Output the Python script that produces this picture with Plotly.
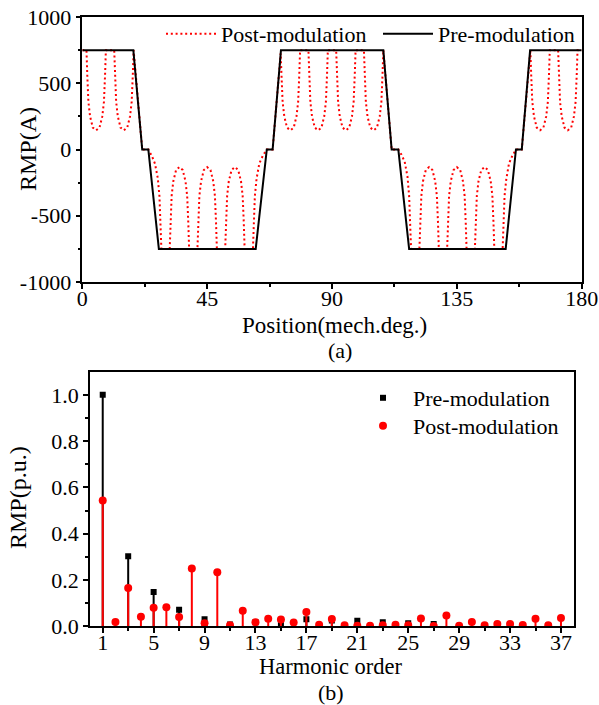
import plotly.graph_objects as go

# ---------------- (a) waveform data ----------------
pre_pos = [0, 18.4, 21.6, 23.8, 27.6, 62.5, 66.5, 68.6, 71.6, 108.5, 111.5, 113.9,
           117.8, 152.6, 156.3, 158.4, 161.4, 180]
pre_rmp = [750, 750, 0, 0, -750, -750, 0, 0, 750, 750, 0, 0,
           -750, -750, 0, 0, 750, 750]

post_pos = [
    0, 1.5, 1.8, 2.2, 2.8, 3.8, 5, 6.2, 7.2, 7.8, 8.2, 8.5,
    11.5, 11.8, 12.2, 12.8, 13.8, 15, 16.2, 17.2, 17.8, 18.2, 18.5,
    21.6, 23.8, 24.4, 25, 26.2, 27.2, 27.8, 28.2, 28.5,
    31.5, 31.8, 32.2, 32.8, 33.8, 35, 36.2, 37.2, 37.8, 38.2, 38.5,
    41.5, 41.8, 42.2, 42.8, 43.8, 45, 46.2, 47.2, 47.8, 48.2, 48.5,
    51.5, 51.8, 52.2, 52.8, 53.8, 55, 56.2, 57.2, 57.8, 58.2, 58.5,
    61.5, 61.8, 62.2, 62.8, 63.8, 65, 66.5, 68.6, 71.5,
    71.8, 72.2, 72.8, 73.8, 75, 76.2, 77.2, 77.8, 78.2, 78.5,
    81.5, 81.8, 82.2, 82.8, 83.8, 85, 86.2, 87.2, 87.8, 88.2, 88.5,
    91.5, 91.8, 92.2, 92.8, 93.8, 95, 96.2, 97.2, 97.8, 98.2, 98.5,
    101.5, 101.8, 102.2, 102.8, 103.8, 105, 106.2, 107.2, 107.8, 108.2, 108.5,
    111.5, 113.9, 114.4, 115, 116.2, 117.2, 117.8, 118.2, 118.5,
    121.5, 121.8, 122.2, 122.8, 123.8, 125, 126.2, 127.2, 127.8, 128.2, 128.5,
    131.5, 131.8, 132.2, 132.8, 133.8, 135, 136.2, 137.2, 137.8, 138.2, 138.5,
    141.5, 141.8, 142.2, 142.8, 143.8, 145, 146.2, 147.2, 147.8, 148.2, 148.5,
    151.5, 151.8, 152.2, 152.8, 153.8, 155, 156.3, 158.4, 161.5,
    161.8, 162.2, 162.8, 163.8, 165, 166.2, 167.2, 167.8, 168.2, 168.5,
    171.5, 171.8, 172.2, 172.8, 173.8, 175, 176.2, 177.2, 177.8, 178.2, 178.5,
    180]
post_rmp = [
    750, 750, 560, 360, 250, 165, 145, 165, 250, 360, 560, 750,
    750, 560, 360, 250, 165, 145, 165, 250, 360, 560, 750,
    0, 0, -24, -45, -107, -215, -350, -550, -750,
    -750, -550, -350, -240, -155, -133, -155, -240, -350, -550, -750,
    -750, -550, -350, -240, -155, -133, -155, -240, -350, -550, -750,
    -750, -550, -350, -240, -155, -133, -155, -240, -350, -550, -750,
    -750, -550, -350, -222, -105, -50, 0, 0, 725,
    560, 360, 250, 165, 145, 165, 250, 360, 560, 750,
    750, 560, 360, 250, 165, 145, 165, 250, 360, 560, 750,
    750, 560, 360, 250, 165, 145, 165, 250, 360, 560, 750,
    750, 560, 360, 250, 165, 145, 165, 250, 360, 560, 750,
    0, 0, -18, -38, -92, -203, -350, -550, -750,
    -750, -550, -350, -240, -155, -133, -155, -240, -350, -550, -750,
    -750, -550, -350, -240, -155, -133, -155, -240, -350, -550, -750,
    -750, -550, -350, -240, -155, -133, -155, -240, -350, -550, -750,
    -750, -550, -350, -227, -105, -47, 0, 0, 750,
    560, 360, 250, 165, 145, 165, 250, 360, 560, 750,
    750, 560, 360, 250, 165, 145, 165, 250, 360, 560, 750,
    750]

a_xticks = [0, 45, 90, 135, 180]
a_yticks = [-1000, -500, 0, 500, 1000]
a_yticktext = ["-1000", "-500", "0", "500", "1000"]

# ---------------- (b) harmonic data ----------------
pre_orders = [1, 3, 5, 7, 9, 11, 13, 15, 17, 19, 21, 23, 25, 27]
pre_pu = [1.0, 0.303, 0.148, 0.072, 0.030, 0.008, 0.018, 0.010, 0.030, 0.025,
          0.024, 0.018, 0.013, 0.010]

post_orders = list(range(1, 38))
post_pu = [0.543, 0.019, 0.165, 0.041, 0.080, 0.082, 0.040, 0.250, 0.013, 0.234,
           0.004, 0.067, 0.017, 0.033, 0.029, 0.016, 0.062, 0.007, 0.031, 0.004,
           0.002, 0.002, 0.004, 0.007, 0.004, 0.034, 0.001, 0.047, 0.002, 0.019,
           0.004, 0.010, 0.010, 0.006, 0.033, 0.004, 0.036]

b_xticks = [1, 5, 9, 13, 17, 21, 25, 29, 33, 37]
b_yticks = [0.0, 0.2, 0.4, 0.6, 0.8, 1.0]

FONT = "Liberation Serif"
FS = 22
W, H = 599, 705


def stems(xs, ys):
    sx, sy = [], []
    for x, y in zip(xs, ys):
        sx += [x, x, None]
        sy += [0, y, None]
    return sx, sy


fig = go.Figure()

# (a)
fig.add_trace(go.Scatter(x=post_pos, y=post_rmp, mode="lines", name="Post-modulation",
                         line=dict(color="#ff0000", width=2, dash="2px,2.8px"),
                         xaxis="x", yaxis="y", legend="legend"))
fig.add_trace(go.Scatter(x=pre_pos, y=pre_rmp, mode="lines", name="Pre-modulation",
                         line=dict(color="black", width=2),
                         xaxis="x", yaxis="y", legend="legend"))

# (b)
sx, sy = stems(pre_orders, pre_pu)
fig.add_trace(go.Scatter(x=sx, y=sy, mode="lines", line=dict(color="black", width=2),
                         showlegend=False, xaxis="x2", yaxis="y2", hoverinfo="skip"))
fig.add_trace(go.Scatter(x=pre_orders, y=pre_pu, mode="markers", name="Pre-modulation",
                         marker=dict(symbol="square", color="black", size=6),
                         xaxis="x2", yaxis="y2", legend="legend2"))
sx, sy = stems(post_orders, post_pu)
fig.add_trace(go.Scatter(x=sx, y=sy, mode="lines", line=dict(color="#ff0000", width=2),
                         showlegend=False, xaxis="x2", yaxis="y2", hoverinfo="skip"))
fig.add_trace(go.Scatter(x=post_orders, y=post_pu, mode="markers", name="Post-modulation",
                         marker=dict(symbol="circle", color="#ff0000", size=8),
                         xaxis="x2", yaxis="y2", legend="legend3"))

axis_common = dict(showline=True, linecolor="black", linewidth=1.5, mirror=True,
                   ticks="outside", ticklen=5, tickwidth=1.5, tickcolor="black",
                   showgrid=False, zeroline=False, automargin=False,
                   tickfont=dict(family=FONT, size=FS, color="black"))
minor_common = dict(ticks="outside", ticklen=3, tickcolor="black", tickwidth=1.5)


def label(text, x, y, size=FS, angle=0):
    return dict(text=text, x=x / W, y=1 - y / H, xref="paper", yref="paper",
                showarrow=False, textangle=angle, xanchor="center", yanchor="middle",
                font=dict(family=FONT, size=size, color="black"))


leg_common = dict(bgcolor="rgba(0,0,0,0)", font=dict(family=FONT, size=FS),
                  xanchor="left", yanchor="middle", tracegroupgap=0)

fig.update_layout(
    width=W, height=H,
    margin=dict(l=0, r=0, t=0, b=0, autoexpand=False),
    paper_bgcolor="white", plot_bgcolor="white",
    font=dict(family=FONT, size=FS, color="black"),
    xaxis=dict(domain=[82.3 / W, 581.7 / W], range=[0, 180], tickvals=a_xticks,
               ticklabelstandoff=-9,
               minor=dict(tickvals=[22.5, 67.5, 112.5, 157.5], **minor_common),
               anchor="y", **axis_common),
    yaxis=dict(domain=[1 - 282 / H, 1 - 17 / H], range=[-1000, 1000], tickvals=a_yticks,
               ticktext=a_yticktext,
               minor=dict(tickvals=[-750, -250, 250, 750], **minor_common),
               anchor="x", **axis_common),
    xaxis2=dict(domain=[90 / W, 573.7 / W], range=[0, 38], tickvals=b_xticks,
                ticklabelstandoff=-9,
                minor=dict(tickvals=[3, 7, 11, 15, 19, 23, 27, 31, 35], **minor_common),
                anchor="y2", **axis_common),
    yaxis2=dict(domain=[1 - 626.3 / H, 1 - 371.7 / H], range=[0, 1.1], tickvals=b_yticks,
                tickformat=".1f",
                minor=dict(tickvals=[0.1, 0.3, 0.5, 0.7, 0.9], **minor_common),
                anchor="x2", **axis_common),
    legend=dict(orientation="h", x=161 / W, y=1 - 34 / H,
                itemwidth=50, entrywidth=152, entrywidthmode="pixels", **leg_common),
    legend2=dict(orientation="v", x=353 / W, y=1 - 398 / H, itemwidth=50, **leg_common),
    legend3=dict(orientation="v", x=353 / W, y=1 - 426 / H, itemwidth=50, **leg_common),
    annotations=[
        label("Position(mech.deg.)", 334, 325, 23),
        label("(a)", 340, 351),
        label("RMP(A)", 28, 149, 24, -90),
        label("Harmonic order", 331, 666, 22.5),
        label("(b)", 331, 692),
        label("RMP(p.u.)", 18, 498, 24, -90),
    ],
)

fig.write_html("out.html")
